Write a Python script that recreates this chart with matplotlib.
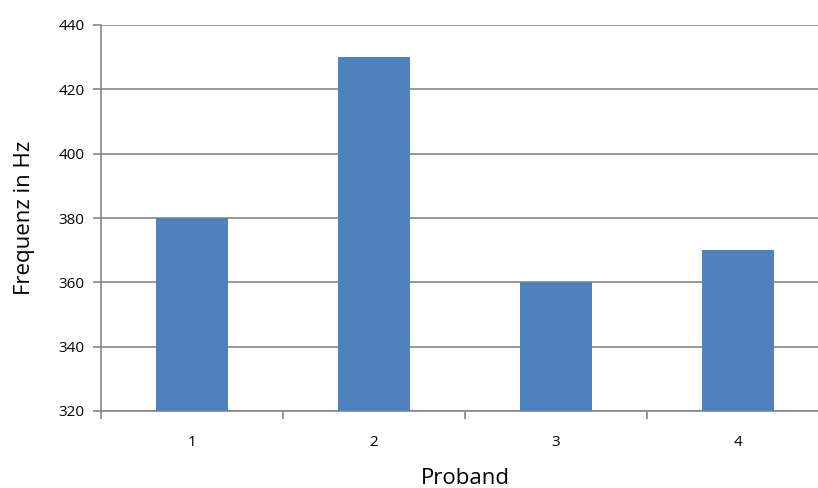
import matplotlib
matplotlib.use("Agg")
import matplotlib.pyplot as plt
import numpy as np

# Data
probands = ["1", "2", "3", "4"]
freq_hz = [380, 430, 360, 370]

plt.rcParams["font.family"] = ["Open Sans", "DejaVu Sans"]

fig = plt.figure(figsize=(8.18, 4.88), dpi=100)
# axes runs past the right edge of the picture (cropped like the reference)
ax = fig.add_axes([101 / 818, 1 - 411 / 488, 728 / 818, 386 / 488])

x = np.arange(len(probands))
ax.bar(x, np.array(freq_hz) - 320, bottom=320, width=0.40, color="#4F81BD", zorder=3)

ax.set_xlim(-0.5, len(probands) - 0.5)
ax.set_ylim(320, 440)
ax.set_yticks(np.arange(320, 441, 20))
ax.grid(axis="y", color="#868686", linewidth=1.2, zorder=0)

# category labels centered, tick marks between categories
ax.set_xticks(x)
ax.set_xticklabels(probands, fontsize=11)
ax.tick_params(axis="x", length=0, pad=17)
ax.set_xticks(np.arange(-0.5, len(probands)), minor=True)
ax.tick_params(axis="x", which="minor", length=6, color="#868686", width=1.2)
ax.tick_params(axis="y", length=6, color="#868686", width=1.2, labelsize=11, pad=6)

for side in ["top", "right"]:
    ax.spines[side].set_visible(False)
for side in ["left", "bottom"]:
    ax.spines[side].set_color("#868686")
    ax.spines[side].set_linewidth(1.2)

ax.set_xlabel("Proband", fontsize=16, labelpad=13)
ax.set_ylabel("Frequenz in Hz", fontsize=16, labelpad=17)

fig.savefig("out.png", dpi=100)
